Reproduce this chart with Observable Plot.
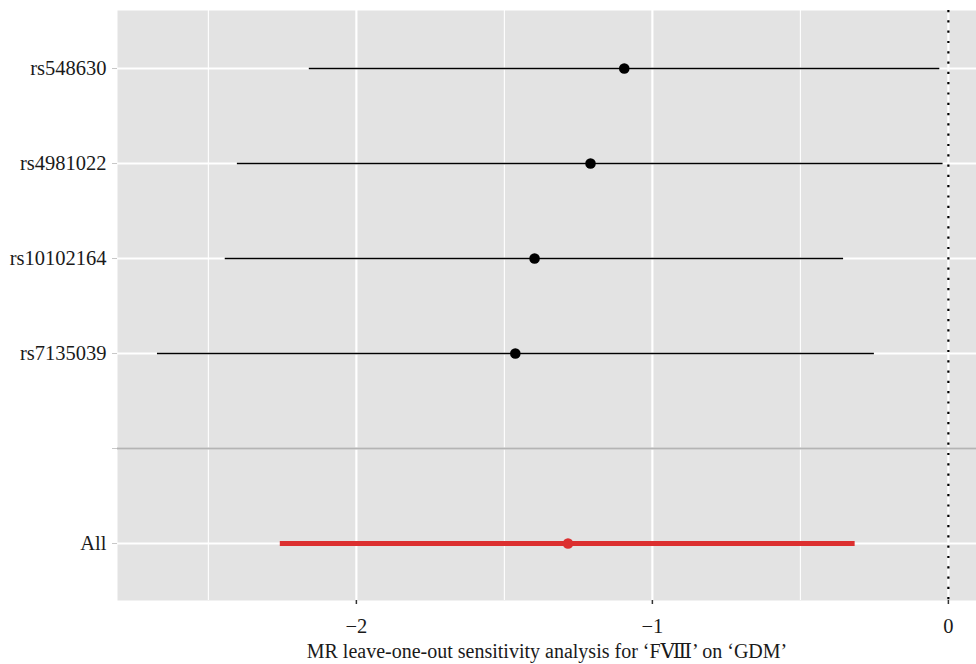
<!DOCTYPE html>
<html><head><meta charset="utf-8">
<script src="https://cdn.jsdelivr.net/npm/d3@7"></script>
<script src="https://cdn.jsdelivr.net/npm/@observablehq/plot@0.6"></script>
<style>
body{margin:0;background:#fff}
#chart svg{display:block}
</style>
</head><body><div id="chart"></div>
<script>
const snps = ["rs548630","rs4981022","rs10102164","rs7135039"];
const snpEstimate = [-1.095,-1.209,-1.398,-1.463];
const snpLower = [-2.159,-2.402,-2.443,-2.672];
const snpUpper = [-0.029,-0.018,-0.354,-0.250];
const overallLabel = "All";
const overallEstimate = -1.285;
const overallLower = -2.257;
const overallUpper = -0.315;
const separatorLabel = "";
const yCategories = [...snps, separatorLabel, overallLabel];
const xMajorTicks = [-2,-1,0];
const xMinorTicks = [-2.5,-1.5,-0.5];
const xTitle = "MR leave-one-out sensitivity analysis for ‘FⅧ’ on ‘GDM’";

const snpRows = snps.map((s,i)=>({snp:s, b:snpEstimate[i], lo:snpLower[i], hi:snpUpper[i]}));
const allRows = [{snp:overallLabel, b:overallEstimate, lo:overallLower, hi:overallUpper}];
const fmt = d => d === 0 ? "0" : "\u2212" + Math.abs(d);

const plot = Plot.plot({
  width: 976,
  height: 664,
  marginLeft: 117,
  marginRight: 0,
  marginTop: 10,
  marginBottom: 64,
  style: {fontFamily: "'Liberation Serif', 'DejaVu Serif', serif", fontSize: "20px", background: "#fff", color: "#1a1a1a"},
  x: {domain: [-2.807, 0.095], label: null},
  y: {type: "point", domain: yCategories, padding: 0.6, label: null},
  marks: [
    Plot.frame({fill: "#e3e3e3", stroke: null}),
    Plot.ruleX(xMinorTicks, {stroke: "#fff", strokeWidth: 1.1}),
    Plot.ruleX(xMajorTicks, {stroke: "#fff", strokeWidth: 2.2}),
    Plot.ruleY(yCategories, {y: d => d, stroke: "#fff", strokeWidth: 2.2}),
    Plot.ruleY([separatorLabel], {y: d => d, stroke: "#b4b4b4", strokeWidth: 2}),
    Plot.ruleY(snpRows, {y: "snp", x1: "lo", x2: "hi", stroke: "#000", strokeWidth: 1.5}),
    Plot.dot(snpRows, {x: "b", y: "snp", r: 5.3, fill: "#000", stroke: null}),
    Plot.ruleY(allRows, {y: "snp", x1: "lo", x2: "hi", stroke: "#dc2f2f", strokeWidth: 5}),
    Plot.dot(allRows, {x: "b", y: "snp", r: 5.3, fill: "#dc2f2f", stroke: null}),
    Plot.ruleX([0], {stroke: "#000", strokeWidth: 2.2, strokeDasharray: "2.2,8.1"}),
    Plot.axisX({ticks: xMajorTicks, tickFormat: fmt, tickSize: 4, tickPadding: 14, stroke: "#333", strokeWidth: 1.5, fontSize: 20.5, label: null}),
    Plot.axisY({tickSize: 5, tickPadding: 6, stroke: "#c8c8c8", fontSize: 20.5, label: null}),
    Plot.text([xTitle], {frameAnchor: "bottom", dy: 57, fontSize: 20, fill: "#1a1a1a", text: d => d})
  ]
});
document.getElementById("chart").appendChild(plot);
</script>
</body></html>
